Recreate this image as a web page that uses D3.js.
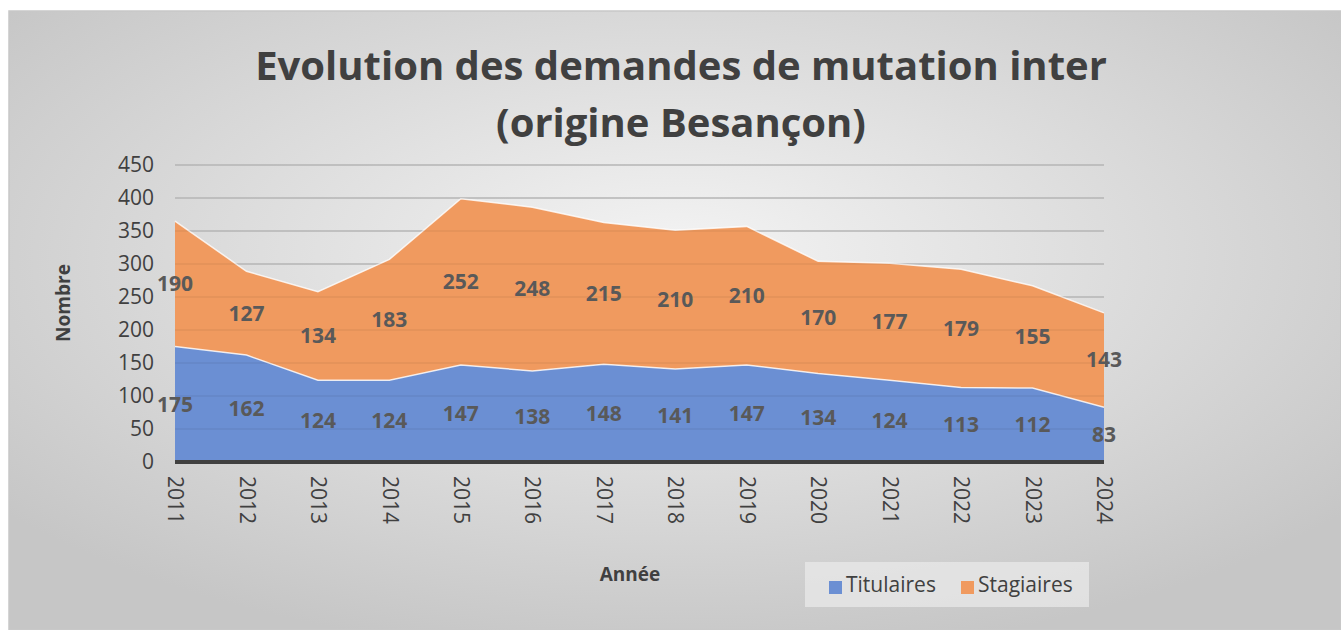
<!DOCTYPE html>
<html>
<head>
<meta charset="utf-8">
<script src="https://cdn.jsdelivr.net/npm/d3@7"></script>
<style>
  body { margin: 0; background: #fff; }
  text { font-family: "Open Sans", "Noto Sans", sans-serif; }
</style>
</head>
<body>
<div id="chart"></div>
<script>
var years = ["2011","2012","2013","2014","2015","2016","2017","2018","2019","2020","2021","2022","2023","2024"];
var titulaires = [175, 162, 124, 124, 147, 138, 148, 141, 147, 134, 124, 113, 112, 83];
var stagiaires = [190, 127, 134, 183, 252, 248, 215, 210, 210, 170, 177, 179, 155, 143];
var yTicks = [0, 50, 100, 150, 200, 250, 300, 350, 400, 450];
var seriesNames = ["Titulaires", "Stagiaires"];
var colors = ["#6b8fd3", "#f09a5f"];

var W = 1341, H = 630;
var svg = d3.select("#chart").append("svg").attr("width", W).attr("height", H);

// background gradient like the office chart
var defs = svg.append("defs");
var grad = defs.append("radialGradient").attr("id", "bg")
    .attr("cx", "50%").attr("cy", "40%").attr("r", "65%");
grad.append("stop").attr("offset", "0%").attr("stop-color", "#f4f4f4");
grad.append("stop").attr("offset", "100%").attr("stop-color", "#c6c6c6");
svg.append("rect").attr("x", 9).attr("y", 11).attr("width", W - 9).attr("height", H - 11)
    .attr("fill", "url(#bg)").attr("stroke", "#c8c8c8").attr("stroke-width", 1.5);

// title
var title = svg.append("text").attr("text-anchor", "middle").attr("fill", "#404040")
    .attr("font-size", "40px").attr("font-weight", "bold");
title.append("tspan").attr("x", 681).attr("y", 80).text("Evolution des demandes de mutation inter");
title.append("tspan").attr("x", 681).attr("y", 137).text("(origine Besançon)");

var plotL = 175, plotR = 1104, plotT = 165, plotB = 462;
var x = d3.scalePoint().domain(years).range([plotL, plotR]);
var y = d3.scaleLinear().domain([0, 450]).range([plotB, plotT]);

var rows = years.map(function(d, i) { return {year: d, Titulaires: titulaires[i], Stagiaires: stagiaires[i]}; });
var stacked = d3.stack().keys(seriesNames)(rows);

// gridlines
svg.append("g").selectAll("line").data(yTicks.slice(1)).enter().append("line")
    .attr("x1", plotL).attr("x2", plotR)
    .attr("y1", function(d) { return y(d); }).attr("y2", function(d) { return y(d); })
    .attr("stroke", "#c0c0c0").attr("stroke-width", 1.5);

var area = d3.area()
    .x(function(d) { return x(d.data.year); })
    .y0(function(d) { return y(d[0]); })
    .y1(function(d) { return y(d[1]); });
var topLine = d3.line()
    .x(function(d) { return x(d.data.year); })
    .y(function(d) { return y(d[1]); });

svg.append("g").selectAll("path.area").data(stacked).enter().append("path")
    .attr("class", "area")
    .attr("d", area)
    .attr("fill", function(d, i) { return colors[i]; });
svg.append("g").selectAll("path.edge").data(stacked).enter().append("path")
    .attr("d", topLine).attr("fill", "none")
    .attr("stroke", "#ffffff").attr("stroke-opacity", 0.8).attr("stroke-width", 1.5);

// faint gridlines seen through the areas
svg.append("g").selectAll("line").data(yTicks.slice(1)).enter().append("line")
    .attr("x1", plotL).attr("x2", plotR)
    .attr("y1", function(d) { return y(d); }).attr("y2", function(d) { return y(d); })
    .attr("stroke", "#000").attr("stroke-opacity", 0.06).attr("stroke-width", 1.5);

// baseline
svg.append("line").attr("x1", plotL).attr("x2", plotR).attr("y1", y(0)).attr("y2", y(0))
    .attr("stroke", "#404040").attr("stroke-width", 4);

// y axis labels
var yAxis = svg.append("g").attr("transform", "translate(" + (plotL - 21) + ",0)")
    .call(d3.axisLeft(y).tickValues(yTicks).tickSize(0).tickPadding(0));
yAxis.select(".domain").remove();
yAxis.selectAll("text").attr("font-size", "21px").attr("fill", "#404040")
    .attr("font-family", "\"Open Sans\", sans-serif");

// x axis labels (rotated)
var xAxis = svg.append("g").attr("transform", "translate(0," + (plotB + 14) + ")")
    .call(d3.axisBottom(x).tickSize(0).tickPadding(0));
xAxis.select(".domain").remove();
xAxis.selectAll("text")
    .attr("font-size", "21px").attr("fill", "#404040")
    .attr("font-family", "\"Open Sans\", sans-serif")
    .attr("text-anchor", "start").attr("dy", "0.35em").attr("y", 0)
    .attr("transform", "rotate(90)");

// data labels
stacked.forEach(function(s) {
  svg.append("g").selectAll("text").data(s).enter().append("text")
      .attr("x", function(d) { return x(d.data.year); })
      .attr("y", function(d) { return y((d[0] + d[1]) / 2); })
      .attr("dy", "0.35em")
      .attr("text-anchor", "middle")
      .attr("font-size", "21px").attr("font-weight", "bold").attr("fill", "#595959")
      .text(function(d) { return d[1] - d[0]; });
});

// axis titles
svg.append("text").attr("transform", "translate(70,303) rotate(-90)")
    .attr("text-anchor", "middle").attr("font-size", "19px").attr("font-weight", "bold")
    .attr("fill", "#404040").text("Nombre");
svg.append("text").attr("x", 630).attr("y", 581)
    .attr("text-anchor", "middle").attr("font-size", "19px").attr("font-weight", "bold")
    .attr("fill", "#404040").text("Année");

// legend
var legend = svg.append("g");
legend.append("rect").attr("x", 805).attr("y", 562).attr("width", 284).attr("height", 45)
    .attr("fill", "#ebebeb").attr("fill-opacity", 0.7);
var legX = [829, 961];
seriesNames.forEach(function(name, i) {
  legend.append("rect").attr("x", legX[i]).attr("y", 581).attr("width", 13).attr("height", 13)
      .attr("fill", colors[i]);
  legend.append("text").attr("x", legX[i] + 17).attr("y", 585).attr("dy", "0.35em")
      .attr("font-size", "21px").attr("fill", "#404040").text(name);
});
</script>
</body>
</html>
